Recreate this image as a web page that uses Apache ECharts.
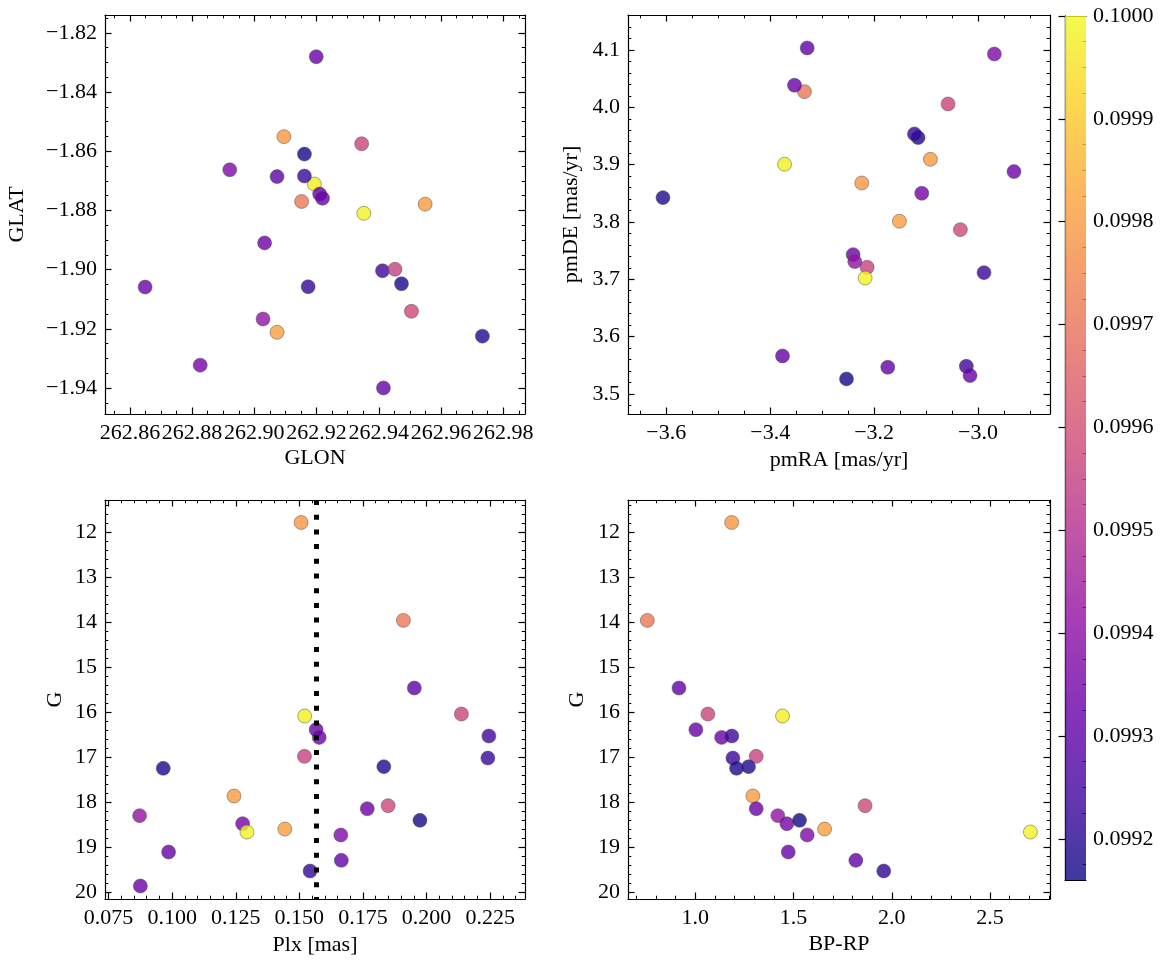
<!DOCTYPE html>
<html><head><meta charset="utf-8">
<script src="https://cdn.jsdelivr.net/npm/echarts@6/dist/echarts.min.js"></script>
<style>html,body{margin:0;padding:0;background:#fff}#c{width:1166px;height:965px}</style>
</head><body><div id="c"></div>
<script>
// ---- data (one entry per star) ----
const glon = [262.9095,262.9152,262.9073,262.9345,262.9193,262.9199,262.9033,262.9412,262.9452,262.9161,262.9473,262.9733,262.9549,262.8649,262.9505,262.9028,262.8826,262.9352,262.9073,262.9161,262.8921,262.9415,262.9210,262.9173,262.9219];
const glat = [-1.8551,-1.8770,-1.8686,-1.8575,-1.8711,-1.8281,-1.8910,-1.9004,-1.8999,-1.8684,-1.9048,-1.9225,-1.8779,-1.9059,-1.9141,-1.9167,-1.9323,-1.8810,-1.9212,-1.8610,-1.8663,-1.9400,-1.8745,-1.9058,-1.8759];
const pmra = [-3.2237,-3.3340,-3.3288,-3.0577,-3.3724,-3.3532,-3.2404,-3.0225,-3.2135,-2.9885,-3.1154,-3.6064,-3.0917,-2.9308,-3.0340,-3.2372,-3.1083,-3.2173,-3.1513,-3.2532,-2.9686,-3.3763,-3.1737,-3.1224,-3.0154];
const pmde = [3.8680,4.0273,4.1035,4.0058,3.9006,4.0384,3.7430,3.5483,3.7209,3.7116,3.9471,3.8424,3.9093,3.8878,3.7866,3.7308,3.8500,3.7023,3.8012,3.5262,4.0930,3.5663,3.5465,3.9535,3.5320];
const plx  = [0.1507,0.1909,0.1952,0.2137,0.1521,0.1566,0.1578,0.2245,0.1520,0.2241,0.0965,0.1832,0.1243,0.1767,0.1849,0.0872,0.1277,0.1294,0.1443,0.1974,0.1663,0.0986,0.1665,0.1542,0.0875];
const gmag = [11.78,13.956,15.459,16.037,16.081,16.385,16.556,16.526,16.978,17.015,17.244,17.207,17.859,18.141,18.074,18.296,18.474,18.659,18.593,18.400,18.726,19.104,19.289,19.526,19.859];
const bprp = [1.185,0.756,0.917,1.064,1.444,1.003,1.134,1.186,1.310,1.1915,1.210,1.271,1.293,1.310,1.864,1.420,1.466,2.705,1.658,1.5305,1.5695,1.473,1.817,1.959,null];
const prob = [0.09979,0.09971,0.09930,0.09957,0.09998,0.09932,0.09933,0.09924,0.09956,0.09923,0.09918,0.09919,0.09980,0.09933,0.09958,0.09942,0.09935,0.09999,0.09981,0.09917,0.09937,0.09932,0.09931,0.09922,0.09932];
const plxMean = 0.1566;

// ---- tick labels ----
const glonTicks = [262.86,262.88,262.90,262.92,262.94,262.96,262.98];
const glatTicks = [-1.94,-1.92,-1.90,-1.88,-1.86,-1.84,-1.82];
const pmraTicks = [-3.6,-3.4,-3.2,-3.0];
const pmdeTicks = [3.5,3.6,3.7,3.8,3.9,4.0,4.1];
const plxTicks  = [0.075,0.100,0.125,0.150,0.175,0.200,0.225];
const gTicks    = [12,13,14,15,16,17,18,19,20];
const bprpTicks = [1.0,1.5,2.0,2.5];
const cbTicks   = [0.0992,0.0993,0.0994,0.0995,0.0996,0.0997,0.0998,0.0999,0.1000];
const cbMin = 0.09916, cbMax = 0.1000;

const plasma = ['#0d0887','#41049d','#6a00a8','#8f0da4','#b12a90','#cc4778','#e16462','#f2844b','#fca636','#fcce25','#f0f921'];

const FONT = 'Liberation Serif', FS = 22;
const MINUS = '\u2212';
const sfmt = d => v => (v < 0 ? MINUS : '') + Math.abs(v).toFixed(d);

function minorVals(min, max, step, majors) {
  const out = [];
  const start = Math.ceil(min / step - 1e-9);
  for (let k = start; k * step <= max + 1e-12; k++) {
    const v = +(k * step).toFixed(10);
    if (v <= min || v >= max) continue;
    if (majors.some(m => Math.abs(m - v) < step * 1e-3)) continue;
    out.push(v);
  }
  return out;
}
const textStyle = {fontFamily: FONT, fontSize: FS, color: '#000'};
const line = {show: true, lineStyle: {color: '#000', width: 1.2}};
function axisSet(dim, grid, c) {
  const minors = minorVals(c.min, c.max, c.minorStep, c.majors);
  const opp = dim === 'x' ? 'top' : 'right';
  const base = {gridIndex: grid, type: 'value', min: c.min, max: c.max, inverse: !!c.inverse,
    splitLine: {show: false}, z: 5};
  const majT = {show: true, inside: true, length: 6.5, lineStyle: {color: '#000', width: 1.2}, customValues: c.majors};
  const minT = {show: true, inside: true, length: 3.3, lineStyle: {color: '#000', width: 1}, customValues: minors};
  return [
    Object.assign({}, base, {position: c.pos, axisLine: line, axisTick: majT,
      axisLabel: Object.assign({show: true, customValues: c.majors, formatter: c.fmt, margin: c.margin}, textStyle),
      name: c.name, nameLocation: 'middle', nameGap: c.nameGap, nameTextStyle: textStyle}),
    Object.assign({}, base, {position: c.pos, axisLine: {show: false}, axisTick: minT, axisLabel: {show: false}}),
    Object.assign({}, base, {position: opp, axisLine: line, axisTick: majT, axisLabel: {show: false}}),
    Object.assign({}, base, {position: opp, axisLine: {show: false}, axisTick: minT, axisLabel: {show: false}})
  ];
}

const grids = [
  {left: 105, top: 15, width: 420, height: 399},
  {left: 628, top: 15, width: 422, height: 399},
  {left: 105, top: 500, width: 420, height: 399},
  {left: 628, top: 500, width: 422, height: 399},
  {left: 1065, top: 16, width: 21, height: 864}
];

const xAxes = [].concat(
  axisSet('x', 0, {min: 262.852, max: 262.987, majors: glonTicks, minorStep: 0.005, fmt: v => v.toFixed(2), pos: 'bottom', margin: 8, name: 'GLON', nameGap: 33}),
  axisSet('x', 1, {min: -3.6737, max: -2.8615, majors: pmraTicks, minorStep: 0.05, fmt: sfmt(1), pos: 'bottom', margin: 8, name: 'pmRA [mas/yr]', nameGap: 35}),
  axisSet('x', 2, {min: 0.0736, max: 0.2387, majors: plxTicks, minorStep: 0.005, fmt: v => v.toFixed(3), pos: 'bottom', margin: 8, name: 'Plx [mas]', nameGap: 35}),
  axisSet('x', 3, {min: 0.6576, max: 2.805, majors: bprpTicks, minorStep: 0.1, fmt: v => v.toFixed(1), pos: 'bottom', margin: 8, name: 'BP-RP', nameGap: 34}),
  [
    {gridIndex: 4, type: 'value', min: 0, max: 1, position: 'bottom', axisLine: line, axisTick: {show: false}, axisLabel: {show: false}, splitLine: {show: false}},
    {gridIndex: 4, type: 'value', min: 0, max: 1, position: 'top', axisLine: line, axisTick: {show: false}, axisLabel: {show: false}, splitLine: {show: false}}
  ]
);
const cbMinors = minorVals(cbMin, cbMax, 0.000025, cbTicks);
const yAxes = [].concat(
  axisSet('y', 0, {min: -1.9488, max: -1.814, majors: glatTicks, minorStep: 0.005, fmt: sfmt(2), pos: 'left', margin: 8, name: 'GLAT', nameGap: 77}),
  axisSet('y', 1, {min: 3.465, max: 4.161, majors: pmdeTicks, minorStep: 0.02, fmt: v => v.toFixed(1), pos: 'left', margin: 8, name: 'pmDE [mas/yr]', nameGap: 46}),
  axisSet('y', 2, {min: 11.28, max: 20.148, inverse: true, majors: gTicks, minorStep: 0.2, fmt: v => v.toFixed(0), pos: 'left', margin: 8, name: 'G', nameGap: 39}),
  axisSet('y', 3, {min: 11.28, max: 20.148, inverse: true, majors: gTicks, minorStep: 0.2, fmt: v => v.toFixed(0), pos: 'left', margin: 8, name: 'G', nameGap: 40}),
  [
    {gridIndex: 4, type: 'value', min: cbMin, max: cbMax, position: 'left', axisLine: line, axisTick: {show: false}, axisLabel: {show: false}, splitLine: {show: false}},
    {gridIndex: 4, type: 'value', min: cbMin, max: cbMax, position: 'right', axisLine: line, splitLine: {show: false},
      axisTick: {show: true, inside: true, length: 6.5, lineStyle: {color: '#000', width: 1.2}, customValues: cbTicks},
      axisLabel: Object.assign({show: true, customValues: cbTicks, formatter: v => v.toFixed(4), margin: 7}, textStyle)},
    {gridIndex: 4, type: 'value', min: cbMin, max: cbMax, position: 'right', axisLine: {show: false}, splitLine: {show: false},
      axisTick: {show: true, inside: true, length: 3.3, lineStyle: {color: '#000', width: 1}, customValues: cbMinors}, axisLabel: {show: false}}
  ]
);

function pts(xs, ys) {
  const out = [];
  for (let i = 0; i < xs.length; i++) {
    if (xs[i] == null || ys[i] == null) continue;
    out.push([xs[i], ys[i], prob[i]]);
  }
  return out;
}
const markerStyle = {opacity: 0.8, borderColor: '#4a4a4a', borderWidth: 0.6};
function scatter(grid, xs, ys) {
  return {type: 'scatter', xAxisIndex: grid * 4, yAxisIndex: grid * 4, data: pts(xs, ys),
    symbol: 'circle', symbolSize: 14, itemStyle: markerStyle, z: 3};
}
const s2 = scatter(2, plx, gmag);
s2.markLine = {silent: true, symbol: 'none', precision: 6, label: {show: false}, animation: false,
  lineStyle: {color: '#000', width: 5, type: [5, 9.7], cap: 'butt', opacity: 1},
  data: [{xAxis: plxMean}]};

const series = [
  scatter(0, glon, glat),
  scatter(1, pmra, pmde),
  s2,
  scatter(3, bprp, gmag),
  {type: 'custom', xAxisIndex: 16, yAxisIndex: 16, data: [[0, cbMin]], clip: false, silent: true,
   renderItem: function (params, api) {
     const p0 = api.coord([0, cbMax]);
     const p1 = api.coord([1, cbMin]);
     const stops = plasma.map((c, i) => ({offset: i / (plasma.length - 1), color: c}));
     return {type: 'rect', shape: {x: p0[0], y: p0[1], width: p1[0] - p0[0], height: p1[1] - p0[1]},
       style: {fill: new echarts.graphic.LinearGradient(0, 1, 0, 0, stops), opacity: 0.8}};
   }}
];

const chart = echarts.init(document.getElementById('c'), null, {renderer: 'canvas'});
chart.setOption({
  animation: false,
  backgroundColor: '#fff',
  textStyle: {fontFamily: FONT},
  grid: grids,
  xAxis: xAxes,
  yAxis: yAxes,
  visualMap: {type: 'continuous', show: false, min: cbMin, max: cbMax, dimension: 2,
    seriesIndex: [0, 1, 2, 3], inRange: {color: plasma}},
  series: series
});
</script></body></html>
